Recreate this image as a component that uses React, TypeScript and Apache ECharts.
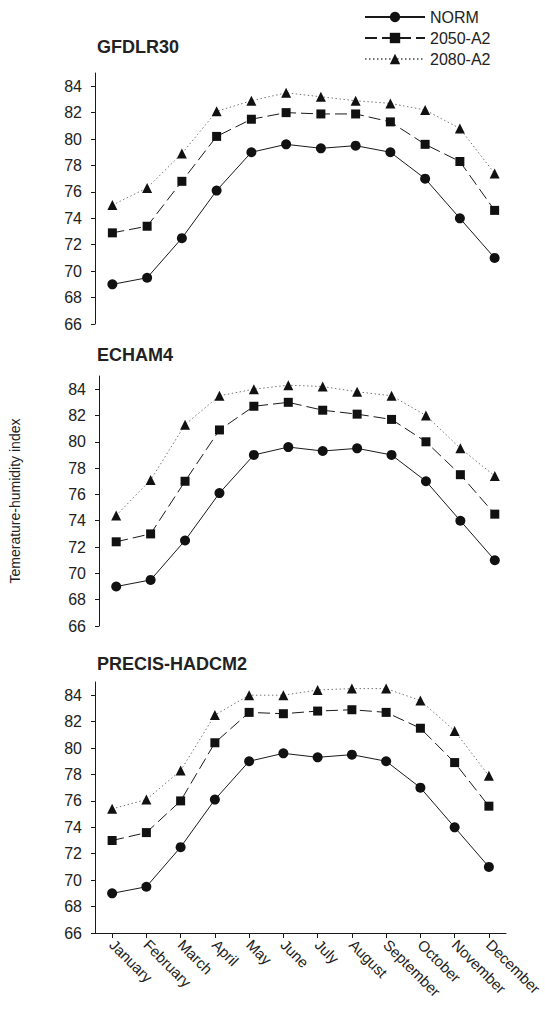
import React, { useEffect, useRef } from "react";
import * as echarts from "echarts";

const months = ["January", "February", "March", "April", "May", "June", "July", "August", "September", "October", "November", "December"];
const yTicks = [66, 68, 70, 72, 74, 76, 78, 80, 82, 84];
const panelTitles = ["GFDLR30", "ECHAM4", "PRECIS-HADCM2"];
const seriesNames = ["NORM", "2050-A2", "2080-A2"];

const norm = [69.0, 69.5, 72.5, 76.1, 79.0, 79.6, 79.3, 79.5, 79.0, 77.0, 74.0, 71.0];

const gfdl2050 = [72.9, 73.4, 76.8, 80.2, 81.5, 82.0, 81.9, 81.9, 81.3, 79.6, 78.3, 74.6];
const gfdl2080 = [75.0, 76.3, 78.9, 82.1, 82.9, 83.5, 83.2, 82.9, 82.7, 82.2, 80.8, 77.4];

const echam2050 = [72.4, 73.0, 77.0, 80.9, 82.7, 83.0, 82.4, 82.1, 81.7, 80.0, 77.5, 74.5];
const echam2080 = [74.4, 77.1, 81.3, 83.5, 84.0, 84.3, 84.2, 83.8, 83.5, 82.0, 79.5, 77.4];

const precis2050 = [73.0, 73.6, 76.0, 80.4, 82.7, 82.6, 82.8, 82.9, 82.7, 81.5, 78.9, 75.6];
const precis2080 = [75.4, 76.1, 78.3, 82.5, 84.0, 84.0, 84.4, 84.5, 84.5, 83.6, 81.3, 77.9];

const panelData = [
  [norm, gfdl2050, gfdl2080],
  [norm, echam2050, echam2080],
  [norm, precis2050, precis2080],
];

export default function App() {
  const ref = useRef<HTMLDivElement>(null);
  useEffect(() => {
    document.body.style.margin = "0";
    if (!ref.current) return;
    const chart = echarts.init(ref.current, undefined, { renderer: "svg" });
    const font = "'Liberation Sans', Arial, sans-serif";
    const tops = [73, 376, 682];
    const heights = [251, 250, 251];
    const styles = [
      { symbol: "circle", symbolSize: 10, line: { color: "#1a1a1a", width: 1, type: "solid" as any } },
      { symbol: "rect", symbolSize: 9, line: { color: "#1a1a1a", width: 1, type: [12, 5] as any } },
      { symbol: "triangle", symbolSize: 10, line: { color: "#777", width: 1, type: [1.5, 2.5] as any } },
    ];
    const grids = tops.map((t, i) => ({ left: 95, width: 417, top: t, height: heights[i] }));
    const xAxes = tops.map((_, i) => ({
      type: "category",
      gridIndex: i,
      data: months,
      boundaryGap: true,
      show: i === 2,
      axisLine: { show: true, lineStyle: { color: "#1a1a1a", width: 1 } },
      axisTick: { show: true, alignWithLabel: true, length: 5, lineStyle: { color: "#1a1a1a" } },
      axisLabel: { rotate: -45, margin: 9, fontSize: 15, color: "#222", fontFamily: font, interval: 0 },
    }));
    const yAxes = tops.map((_, i) => ({
      type: "value",
      gridIndex: i,
      min: 66,
      max: 85,
      interval: 2,
      name: i === 1 ? "Temerature-humidity index" : "",
      nameLocation: "middle",
      nameGap: 77,
      nameTextStyle: { fontSize: 14, color: "#222", fontFamily: font },
      splitLine: { show: false },
      axisLine: { show: true, lineStyle: { color: "#1a1a1a", width: 1 } },
      axisTick: { show: true, length: 4, customValues: yTicks, lineStyle: { color: "#1a1a1a" } },
      axisLabel: { customValues: yTicks, margin: 13, fontSize: 16, color: "#222", fontFamily: font },
    }));
    const series: any[] = [];
    panelData.forEach((sets, p) => {
      sets.forEach((vals, s) => {
        series.push({
          type: "line",
          name: seriesNames[s],
          xAxisIndex: p,
          yAxisIndex: p,
          data: vals,
          symbol: styles[s].symbol,
          symbolSize: styles[s].symbolSize,
          itemStyle: { color: "#111" },
          lineStyle: styles[s].line,
          z: 3 - s,
        });
      });
    });
    chart.setOption({
      animation: false,
      backgroundColor: "#fff",
      title: panelTitles.map((t, i) => ({
        text: t,
        left: 97,
        top: [38, 346, 655][i],
        padding: 0,
        textStyle: { fontSize: 18, fontWeight: "bold", color: "#222", fontFamily: font },
      })),
      legend: {
        orient: "vertical",
        left: 359,
        top: 4,
        itemWidth: 60,
        itemHeight: 13,
        itemGap: 5,
        data: seriesNames,
        textStyle: { fontSize: 16, color: "#222", fontFamily: font },
      },
      grid: grids,
      xAxis: xAxes,
      yAxis: yAxes,
      series,
    });
    return () => chart.dispose();
  }, []);
  return <div ref={ref} style={{ width: 545, height: 1009 }} />;
}
